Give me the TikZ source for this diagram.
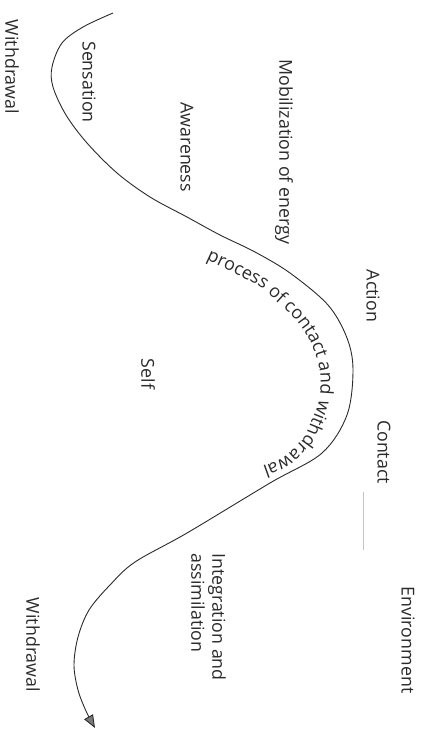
\documentclass[tikz,border=0pt]{standalone}
\usepackage{fontspec}
\setmainfont{Open Sans}
\usetikzlibrary{decorations.text,arrows.meta}
\definecolor{ink}{HTML}{2B2B2B}
\definecolor{faint}{HTML}{C4C4C4}
\definecolor{tipfill}{HTML}{7A7A7A}
\begin{document}
\begin{tikzpicture}[x=1pt,y=-1pt,
  lbl/.style={rotate=-90,text=ink,font=\fontsize{17.8}{21}\selectfont,inner sep=0pt},
  curve/.style={draw=ink,line width=0.9pt},
  sep/.style={draw=faint,line width=0.8pt}]
\useasboundingbox[fill=white] (0,0) rectangle (431,731);
% main S-curve
\coordinate (cs) at (113,13);
\coordinate (ce) at (97,730);
\draw[curve,-{Triangle[length=13pt,width=10pt,fill=tipfill]}] plot[smooth,tension=0.55] coordinates {
 (113,13) (83,27) (62,43) (52,67) (53,87) (66,115) (87,143) (117,173) (150,197) (187,217)
 (220,235) (255,252) (290,273) (328,305) (347,338) (353,370) (347,415) (322,453)
 (270,483) (187,533) (135,562) (110,585) (89,610) (78,637) (74,665) (78,690) (86,711) (95,728)};
% curved label
\path[decorate,decoration={text along path,text align=left,
  text={|\fontsize{18}{20}\selectfont\color{ink}|process of contact and withdrawal}}]
  plot[smooth,tension=0.55] coordinates {
 (206,260) (236,274) (260,287) (277,302) (296,320) (311,343) (320,372) (319,400)
 (310,425) (302,440) (282,458) (255,469) (235,475)};
% labels
\node[lbl] (wd1) at (12,67) {Withdrawal};
\node[lbl] (sens) at (89,82) {Sensation};
\node[lbl] (aware) at (187,147) {Awareness};
\node[lbl] (mob) at (284,152) {Mobilization of energy};
\node[lbl] (act) at (373,296) {Action};
\node[lbl] (self) at (148,374) {Self};
\node[lbl] (cont) at (384,452) {Contact};
\node[lbl,anchor=north west,align=left] (integ) at (226,553) {Integration and\\assimilation};
\node[lbl] (env) at (408,640) {Environment};
\node[lbl] (wd2) at (33,645) {Withdrawal};
% boundary stroke
\coordinate (bt) at (363,492);
\coordinate (bb) at (363,550);
\draw[sep] (bt) -- (bb);
\end{tikzpicture}
\end{document}
